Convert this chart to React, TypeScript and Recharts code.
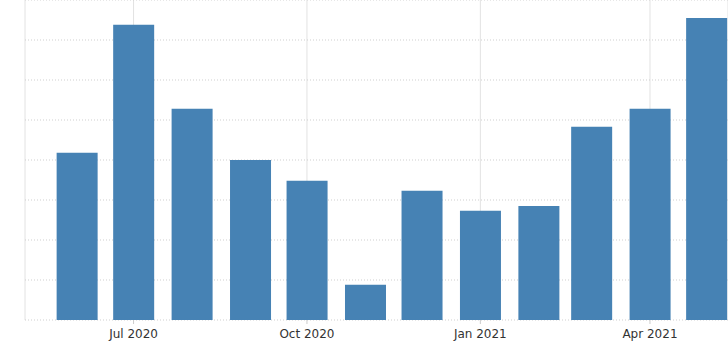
import { Bar, BarChart, CartesianGrid, XAxis, YAxis } from "recharts"

const months = [
  "2020-06", "2020-07", "2020-08", "2020-09", "2020-10", "2020-11",
  "2020-12", "2021-01", "2021-02", "2021-03", "2021-04", "2021-05",
]
const values = [4.18, 7.38, 5.28, 4.0, 3.48, 0.88, 3.23, 2.73, 2.85, 4.83, 5.28, 7.55]
const tickMonths = ["2020-07", "2020-10", "2021-01", "2021-04"]
const tickLabels = ["Jul 2020", "Oct 2020", "Jan 2021", "Apr 2021"]
const yTicks = [0, 1, 2, 3, 4, 5, 6, 7, 8]

const origin = Date.UTC(2020, 5, 1)
const toDay = (m: string) => {
  const [y, mo] = m.split("-").map(Number)
  return (Date.UTC(y, mo - 1, 1) - origin) / 86400000
}

const data = months.map((m, i) => ({ day: toDay(m), value: values[i] }))
const ticks = tickMonths.map(toDay)
const labelFor = (d: number) => tickLabels[ticks.indexOf(d)] ?? ""

const barColor = "#4682b4"

export default function App() {
  return (
    <div style={{ position: "absolute", left: 0, top: 0, width: 728, height: 360, background: "#fff" }}>
      <BarChart
        width={728}
        height={360}
        data={data}
        margin={{ top: 0, right: 0, left: 25, bottom: 0 }}
      >
        <CartesianGrid horizontal={false} vertical stroke="#e2e2e2" />
        <CartesianGrid horizontal vertical={false} stroke="#cfcfcf" strokeDasharray="1 2" />
        <XAxis
          type="number"
          dataKey="day"
          domain={[-27.6, 345.4]}
          allowDataOverflow
          ticks={ticks}
          tickFormatter={labelFor}
          axisLine={false}
          tickLine={{ stroke: "#cccccc" }}
          tickSize={4}
          tickMargin={5}
          height={40}
          tick={{ fill: "#333", fontSize: 12, fontFamily: "DejaVu Sans" }}
        />
        <YAxis hide domain={[0, 8]} ticks={yTicks} />
        <Bar dataKey="value" fill={barColor} barSize={41} isAnimationActive={false} />
      </BarChart>
    </div>
  )
}
